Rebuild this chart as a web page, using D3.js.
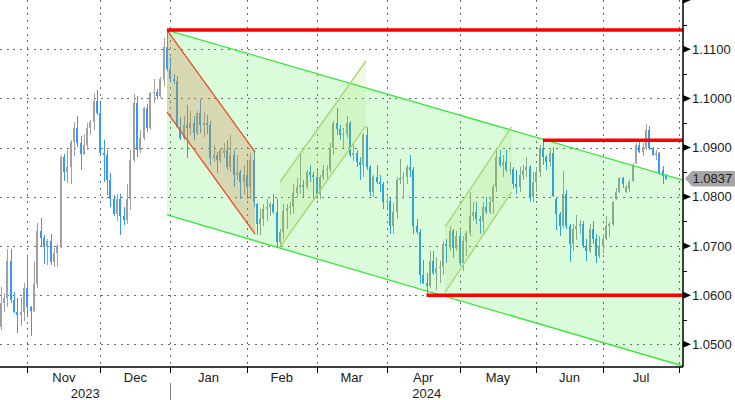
<!DOCTYPE html>
<html><head><meta charset="utf-8">
<script src="https://cdn.jsdelivr.net/npm/d3@7"></script>
<style>
html,body{margin:0;padding:0;background:#fff;}
svg{display:block;}
text{font-family:"Liberation Sans",Arial,sans-serif;font-size:13px;fill:#1a1a1a;}
</style></head><body>
<svg id="chart" width="735" height="400"></svg>
<script>
// ---------- DATA ----------
const startDate = "2023-10-19";     // first bar
const axisEndDate = "2024-07-31";   // axis extends to end of July
const monthLabels = ["Nov","Dec","Jan","Feb","Mar","Apr","May","Jun","Jul"];
const yearLabels = ["2023","2024"];
const lastPrice = 1.0837;

const opens = [
1.0535,1.0584,1.0594,1.0670,1.0590,1.0566,1.0560,1.0566,1.0615,1.0575,
1.0568,1.0623,1.0730,1.0717,1.0697,1.0710,1.0668,1.0685,1.0700,1.0880,
1.0850,1.0860,1.0912,1.0940,1.0910,1.0887,1.0905,1.0940,1.0952,1.0995,
1.0970,1.0889,1.0884,1.0835,1.0795,1.0765,1.0795,1.0760,1.0752,1.0795,
1.0875,1.0990,1.0895,1.0920,1.0980,1.0940,1.1010,1.1013,1.1005,1.1040,
1.1105,1.1060,1.1040,1.1035,1.0942,1.0920,1.0945,1.0940,1.0950,1.0930,
1.0970,1.0945,1.0950,1.0945,1.0878,1.0885,1.0875,1.0890,1.0895,1.0860,
1.0885,1.0845,1.0850,1.0830,1.0845,1.0820,1.0875,1.0785,1.0745,1.0755,
1.0775,1.0780,1.0785,1.0770,1.0708,1.0728,1.0772,1.0778,1.0780,1.0808,
1.0820,1.0823,1.0820,1.0850,1.0845,1.0840,1.0805,1.0840,1.0855,1.0857,
1.0900,1.0950,1.0938,1.0925,1.0927,1.0950,1.0885,1.0890,1.0870,1.0865,
1.0925,1.0860,1.0810,1.0840,1.0830,1.0825,1.0790,1.0792,1.0740,1.0770,
1.0835,1.0838,1.0840,1.0860,1.0855,1.0740,1.0728,1.0640,1.0625,1.0618,
1.0670,1.0645,1.0655,1.0657,1.0705,1.0700,1.0730,1.0695,1.0720,1.0665,
1.0710,1.0727,1.0760,1.0770,1.0755,1.0750,1.0780,1.0770,1.0790,1.0820,
1.0880,1.0865,1.0870,1.0855,1.0857,1.0825,1.0820,1.0845,1.0855,1.0860,
1.0800,1.0830,1.0850,1.0900,1.0880,1.0870,1.0890,1.0795,1.0765,1.0740,
1.0805,1.0740,1.0705,1.0735,1.0740,1.0745,1.0700,1.0690,1.0735,1.0715,
1.0680,1.0700,1.0715,1.0740,1.0745,1.0795,1.0810,1.0838,1.0810,1.0815,
1.0832,1.0868,1.0905,1.0892,1.0900,1.0935,1.0900,1.0885,1.0890,1.0855,
1.0843];
const highs = [
1.0617,1.0605,1.0694,1.0694,1.0607,1.0594,1.0596,1.0625,1.0680,1.0578,
1.0668,1.0747,1.0757,1.0722,1.0715,1.0725,1.0695,1.0705,1.0885,1.0887,
1.0895,1.0916,1.0953,1.0965,1.0924,1.0927,1.0949,1.0956,1.1011,1.1017,
1.0990,1.0916,1.0895,1.0848,1.0804,1.0805,1.0805,1.0780,1.0827,1.0895,
1.1009,1.1004,1.0935,1.0983,1.0988,1.1014,1.1040,1.1020,1.1044,1.1123,
1.1139,1.1085,1.1050,1.1045,1.0963,1.0965,1.0987,1.0975,1.0965,1.0975,
1.0998,1.0973,1.0966,1.0955,1.0905,1.0892,1.0899,1.0909,1.0916,1.0925,
1.0895,1.0885,1.0855,1.0865,1.0875,1.0890,1.0895,1.0787,1.0775,1.0785,
1.0795,1.0790,1.0805,1.0795,1.0735,1.0785,1.0785,1.0790,1.0825,1.0838,
1.0888,1.0835,1.0855,1.0865,1.0850,1.0855,1.0845,1.0865,1.0865,1.0910,
1.0955,1.0981,1.0945,1.0940,1.0965,1.0955,1.0907,1.0895,1.0880,1.0930,
1.0942,1.0865,1.0845,1.0865,1.0845,1.0830,1.0800,1.0800,1.0787,1.0840,
1.0877,1.0850,1.0865,1.0885,1.0860,1.0755,1.0734,1.0672,1.0645,1.0690,
1.0690,1.0678,1.0670,1.0710,1.0715,1.0740,1.0735,1.0730,1.0730,1.0720,
1.0730,1.0810,1.0790,1.0790,1.0760,1.0790,1.0800,1.0800,1.0825,1.0895,
1.0895,1.0885,1.0895,1.0870,1.0860,1.0855,1.0860,1.0865,1.0880,1.0865,
1.0850,1.0860,1.0905,1.0916,1.0885,1.0900,1.0902,1.0800,1.0770,1.0852,
1.0813,1.0745,1.0745,1.0762,1.0752,1.0750,1.0715,1.0745,1.0750,1.0725,
1.0720,1.0725,1.0760,1.0748,1.0792,1.0817,1.0841,1.0841,1.0824,1.0834,
1.0868,1.0909,1.0912,1.0910,1.0948,1.0943,1.0902,1.0896,1.0892,1.0862,
1.0846];
const lows = [
1.0529,1.0565,1.0575,1.0585,1.0564,1.0523,1.0537,1.0547,1.0558,1.0516,
1.0565,1.0615,1.0700,1.0664,1.0662,1.0662,1.0657,1.0658,1.0696,1.0832,
1.0828,1.0827,1.0882,1.0901,1.0855,1.0885,1.0895,1.0926,1.0936,1.0966,
1.0882,1.0831,1.0804,1.0780,1.0760,1.0750,1.0723,1.0742,1.0745,1.0773,
1.0870,1.0880,1.0888,1.0915,1.0932,1.0935,1.0990,1.0998,1.1000,1.1025,
1.1055,1.1035,1.1030,1.0940,1.0915,1.0915,1.0878,1.0925,1.0915,1.0925,
1.0930,1.0922,1.0928,1.0864,1.0871,1.0848,1.0868,1.0878,1.0855,1.0850,
1.0820,1.0835,1.0795,1.0805,1.0795,1.0795,1.0780,1.0723,1.0723,1.0740,
1.0750,1.0760,1.0765,1.0695,1.0700,1.0715,1.0735,1.0762,1.0765,1.0800,
1.0805,1.0800,1.0815,1.0830,1.0795,1.0796,1.0795,1.0835,1.0835,1.0850,
1.0885,1.0925,1.0915,1.0900,1.0920,1.0880,1.0873,1.0860,1.0835,1.0840,
1.0855,1.0802,1.0800,1.0825,1.0810,1.0775,1.0775,1.0725,1.0725,1.0755,
1.0825,1.0795,1.0825,1.0840,1.0725,1.0725,1.0622,1.0622,1.0601,1.0615,
1.0640,1.0610,1.0625,1.0640,1.0665,1.0690,1.0675,1.0690,1.0660,1.0650,
1.0680,1.0720,1.0750,1.0745,1.0725,1.0725,1.0765,1.0765,1.0765,1.0810,
1.0860,1.0840,1.0850,1.0845,1.0815,1.0805,1.0810,1.0835,1.0840,1.0790,
1.0790,1.0810,1.0840,1.0865,1.0855,1.0860,1.0800,1.0732,1.0720,1.0736,
1.0735,1.0668,1.0690,1.0712,1.0725,1.0695,1.0670,1.0685,1.0705,1.0665,
1.0675,1.0685,1.0712,1.0718,1.0740,1.0793,1.0807,1.0817,1.0807,1.0810,
1.0831,1.0866,1.0888,1.0882,1.0895,1.0895,1.0882,1.0875,1.0845,1.0827,
1.0834];
const closes = [
1.0584,1.0594,1.0670,1.0590,1.0566,1.0560,1.0566,1.0615,1.0575,1.0568,
1.0623,1.0730,1.0717,1.0697,1.0710,1.0668,1.0685,1.0700,1.0880,1.0850,
1.0860,1.0912,1.0940,1.0910,1.0887,1.0905,1.0940,1.0952,1.0995,1.0970,
1.0889,1.0884,1.0835,1.0795,1.0765,1.0795,1.0760,1.0752,1.0795,1.0875,
1.0990,1.0895,1.0920,1.0980,1.0940,1.1010,1.1013,1.1005,1.1040,1.1105,
1.1060,1.1040,1.1035,1.0942,1.0920,1.0945,1.0940,1.0950,1.0930,1.0970,
1.0945,1.0950,1.0945,1.0878,1.0885,1.0875,1.0895,1.0895,1.0860,1.0885,
1.0845,1.0850,1.0830,1.0845,1.0820,1.0875,1.0790,1.0745,1.0755,1.0775,
1.0780,1.0785,1.0770,1.0708,1.0728,1.0772,1.0778,1.0780,1.0808,1.0820,
1.0823,1.0820,1.0850,1.0845,1.0840,1.0805,1.0840,1.0855,1.0857,1.0900,
1.0950,1.0938,1.0925,1.0927,1.0950,1.0885,1.0890,1.0870,1.0865,1.0925,
1.0860,1.0810,1.0840,1.0830,1.0825,1.0790,1.0792,1.0740,1.0770,1.0835,
1.0838,1.0840,1.0860,1.0855,1.0740,1.0728,1.0640,1.0625,1.0618,1.0670,
1.0645,1.0655,1.0657,1.0705,1.0700,1.0730,1.0695,1.0720,1.0665,1.0710,
1.0727,1.0760,1.0770,1.0755,1.0750,1.0780,1.0770,1.0790,1.0820,1.0880,
1.0865,1.0870,1.0855,1.0857,1.0825,1.0820,1.0845,1.0855,1.0860,1.0800,
1.0830,1.0850,1.0900,1.0880,1.0870,1.0890,1.0802,1.0765,1.0740,1.0805,
1.0740,1.0705,1.0735,1.0740,1.0745,1.0700,1.0690,1.0735,1.0715,1.0680,
1.0700,1.0715,1.0740,1.0745,1.0790,1.0810,1.0838,1.0825,1.0820,1.0830,
1.0865,1.0905,1.0892,1.0902,1.0935,1.0900,1.0885,1.0888,1.0848,1.0843,
1.0837];

const yTicks = [1.05,1.06,1.07,1.08,1.09,1.10,1.11,1.12];
const yMinorTicks = [1.055,1.065,1.075,1.085,1.095,1.105,1.115];

// annotations in (bar index, price) space
const channelUpper = [[50,1.1139],[205.1,1.0834]];
const channelLower = [[50,1.0763],[205.1,1.0456]];
const redWedgeUpper = [[50,1.1139],[76.5,1.0891]];
const redWedgeLower = [[50,1.0972],[76.5,1.0724]];
const greenFlag1Upper = [[84,1.0830],[109.8,1.1076]];
const greenFlag1Lower = [[84,1.0698],[109.8,1.0944]];
const greenFlag2Upper = [[133.6,1.0739],[153.6,1.0942]];
const greenFlag2Lower = [[133.6,1.0606],[153.6,1.0810]];
const levelLines = [[50,1.1139],[163,1.0915],[128,1.0600]];

// ---------- LAYOUT ----------
const plotR = 683, plotB = 367;
const svg = d3.select("#chart");

const parse = d3.utcParse("%Y-%m-%d");
const days = d3.utcDay.range(parse(startDate), d3.utcDay.offset(parse(axisEndDate),1))
  .filter(d => d.getUTCDay() % 6 !== 0);

const x = d3.scaleLinear().domain([-0.2, 205.1]).range([0, plotR]);
const y = d3.scaleLinear().domain([1.0454, 1.1200]).range([plotB, 0]);

svg.append("defs").append("clipPath").attr("id","clip")
  .append("rect").attr("x",0).attr("y",0).attr("width",plotR).attr("height",plotB);

// month boundaries = last weekday of each month
const bounds = [];
for (let i = 0; i < days.length; i++) {
  const nx = days[i+1];
  if (!nx || nx.getUTCMonth() !== days[i].getUTCMonth()) bounds.push(i);
}

// grid
const grid = svg.append("g").attr("stroke","#6a6a6a").attr("stroke-width",1)
  .attr("stroke-dasharray","2,4.7").attr("shape-rendering","crispEdges");
grid.selectAll("line.h").data(yTicks.filter(v => v < 1.1195)).join("line")
  .attr("x1",0).attr("x2",plotR)
  .attr("y1",d => Math.round(y(d))+0.5).attr("y2",d => Math.round(y(d))+0.5);
grid.selectAll("line.v").data(bounds).join("line")
  .attr("x1",d => Math.round(x(d))+0.5).attr("x2",d => Math.round(x(d))+0.5)
  .attr("y1",0).attr("y2",plotB);

// candles
const bars = closes.map((c,i) => ({i, o:opens[i], h:highs[i], l:lows[i], c}));
const upCol = "#a0a0a0", downCol = "#3399ff";
const gC = svg.append("g").attr("clip-path","url(#clip)").attr("shape-rendering","crispEdges");
gC.selectAll("rect.w").data(bars).join("rect")
  .attr("x", d => Math.round(x(d.i)))
  .attr("y", d => y(d.h))
  .attr("width", 1)
  .attr("height", d => Math.max(1, y(d.l) - y(d.h)))
  .attr("fill", d => d.c >= d.o ? upCol : downCol);
gC.selectAll("rect.b").data(bars).join("rect")
  .attr("x", d => Math.round(x(d.i)) - 1)
  .attr("y", d => y(Math.max(d.o,d.c)))
  .attr("width", 2)
  .attr("height", d => Math.max(1, Math.abs(y(d.o) - y(d.c))))
  .attr("fill", d => d.c >= d.o ? upCol : downCol);

// overlays
const gO = svg.append("g").attr("clip-path","url(#clip)");
const poly = (up, lo) => [...up, ...lo.slice().reverse()].map(p => [x(p[0]), y(p[1])]);
const lineGen = d3.line().x(p => x(p[0])).y(p => y(p[1]));
const polyPath = pts => "M" + pts.map(p => p.join(",")).join("L") + "Z";

gO.append("path").attr("d", polyPath(poly(channelUpper, channelLower)))
  .attr("fill","rgba(10,235,0,0.145)");
gO.append("path").attr("d", polyPath(poly(redWedgeUpper, redWedgeLower)))
  .attr("fill","rgba(205,140,95,0.33)");
gO.append("path").attr("d", polyPath(poly(greenFlag1Upper, greenFlag1Lower)))
  .attr("fill","rgba(160,210,90,0.16)");
gO.append("path").attr("d", polyPath(poly(greenFlag2Upper, greenFlag2Lower)))
  .attr("fill","rgba(160,210,90,0.16)");

[channelUpper, channelLower].forEach(l => gO.append("path").attr("d", lineGen(l))
  .attr("fill","none").attr("stroke","#3be63b").attr("stroke-width",1.3));
[redWedgeUpper, redWedgeLower].forEach(l => gO.append("path").attr("d", lineGen(l))
  .attr("fill","none").attr("stroke","#e2502c").attr("stroke-width",1.3));
[greenFlag1Upper, greenFlag1Lower, greenFlag2Upper, greenFlag2Lower].forEach(l => gO.append("path").attr("d", lineGen(l))
  .attr("fill","none").attr("stroke","#acd978").attr("stroke-width",1.5));

gO.selectAll("line.lvl").data(levelLines).join("line")
  .attr("x1", d => x(d[0])).attr("x2", plotR)
  .attr("y1", d => y(d[1])).attr("y2", d => y(d[1]))
  .attr("stroke","#ff0000").attr("stroke-width",3.5);

// y axis (right)
const gy = svg.append("g");
gy.append("line").attr("x1",plotR).attr("x2",plotR).attr("y1",0).attr("y2",plotB)
  .attr("stroke","#000").attr("stroke-width",1.5);
gy.selectAll("path.tri").data(yTicks).join("path")
  .attr("d", d => { const yy = y(d); return `M${plotR},${yy-3.5}L${plotR+8},${yy}L${plotR},${yy+3.5}Z`; })
  .attr("fill","#000");
gy.selectAll("line.minor").data(yMinorTicks).join("line")
  .attr("x1",plotR).attr("x2",plotR+4)
  .attr("y1",d => Math.round(y(d))+0.5).attr("y2",d => Math.round(y(d))+0.5)
  .attr("stroke","#000").attr("stroke-width",1);
gy.selectAll("text").data(yTicks.filter(v => v < 1.1195)).join("text")
  .attr("x", plotR + 9).attr("y", d => y(d) + 4.7)
  .text(d3.format(".4f"));

// last price tag
const ly = y(lastPrice);
svg.append("path")
  .attr("d", `M${plotR+2},${ly}L${plotR+9},${ly-7.5}L735,${ly-7.5}L735,${ly+8}L${plotR+9},${ly+8}Z`)
  .attr("fill","#a6a6a6");
svg.append("text").attr("x", plotR + 9.5).attr("y", ly + 4.8).text(d3.format(".4f")(lastPrice));

// x axis
const gx = svg.append("g");
gx.append("line").attr("x1",0).attr("x2",plotR).attr("y1",plotB).attr("y2",plotB)
  .attr("stroke","#000").attr("stroke-width",1.5);
gx.selectAll("line.t").data(bounds).join("line")
  .attr("x1",d => Math.round(x(d))+0.5).attr("x2",d => Math.round(x(d))+0.5)
  .attr("y1",plotB).attr("y2",plotB+6).attr("stroke","#000").attr("stroke-width",1);
gx.selectAll("text.m").data(monthLabels).join("text")
  .attr("x",(d,k) => (x(bounds[k]) + x(bounds[k+1]))/2)
  .attr("y", 382).attr("text-anchor","middle").text(d => d);
const yearBound = bounds[2];
gx.append("line").attr("x1",Math.round(x(yearBound))+0.5).attr("x2",Math.round(x(yearBound))+0.5)
  .attr("y1",383).attr("y2",400).attr("stroke","#808080").attr("stroke-width",1);
gx.append("text").attr("x", x(yearBound)/2).attr("y",398).attr("text-anchor","middle").text(yearLabels[0]);
gx.append("text").attr("x", (x(yearBound)+plotR)/2).attr("y",398).attr("text-anchor","middle").text(yearLabels[1]);
</script>
</body></html>
